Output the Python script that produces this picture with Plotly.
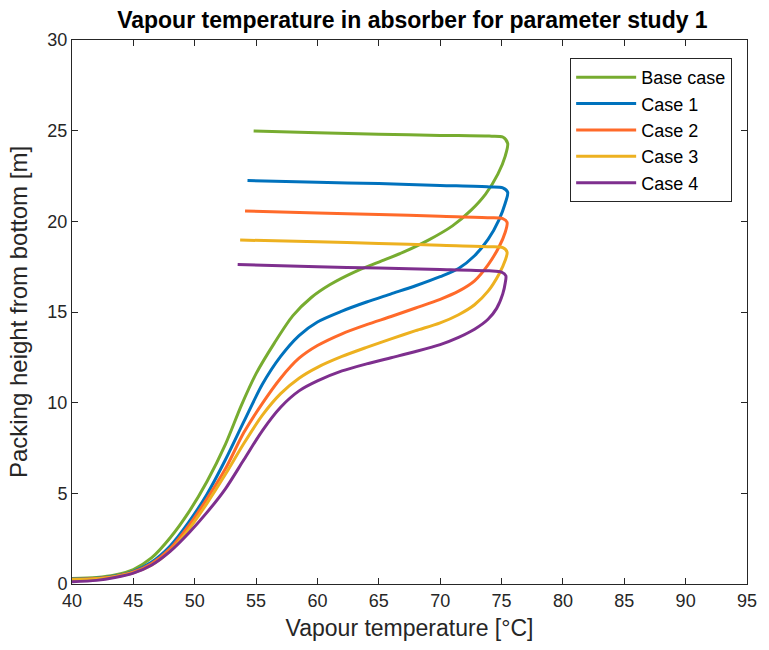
import plotly.graph_objects as go

# Vapour temperature [°C] and packing height [m] along each absorber profile,
# traced from the bottom of the packing up to the top and back along the top section.
base_temp = [40.0, 42.0, 43.5, 45.0, 46.5, 48.0, 49.5, 51.0, 52.5, 53.8, 55.0, 56.5, 58.0,
             59.5, 61.0, 63.0, 65.0, 67.0, 69.0, 71.0, 72.5, 73.7, 74.7, 75.3, 75.5, 75.1,
             74.0, 70.0, 65.0, 60.0, 54.8]
base_height = [0.30, 0.36, 0.50, 0.80, 1.45, 2.55, 3.95, 5.65, 7.70, 9.85, 11.60, 13.30, 14.80,
               15.80, 16.50, 17.20, 17.75, 18.30, 18.95, 19.75, 20.60, 21.50, 22.60, 23.60, 24.30, 24.65,
               24.70, 24.74, 24.80, 24.88, 24.98]

case1_temp = [40.0, 42.0, 43.5, 45.0, 46.5, 48.0, 49.5, 51.0, 52.5, 54.0, 55.5, 57.0, 58.5,
              60.0, 62.0, 64.0, 66.0, 68.0, 70.0, 71.5, 72.8, 73.9, 74.8, 75.3, 75.5, 75.1,
              74.0, 70.0, 65.0, 60.0, 54.3]
case1_height = [0.27, 0.32, 0.44, 0.70, 1.22, 2.10, 3.40, 4.95, 6.85, 8.95, 11.00, 12.55, 13.70,
                14.45, 15.05, 15.55, 16.00, 16.45, 16.95, 17.40, 18.10, 19.00, 20.10, 21.00, 21.60, 21.85,
                21.90, 21.98, 22.08, 22.15, 22.25]

case2_temp = [40.0, 42.0, 43.5, 45.0, 46.5, 48.0, 49.5, 51.0, 52.5, 54.0, 55.5, 57.0, 58.5,
              60.0, 62.0, 64.0, 66.0, 68.0, 70.0, 71.5, 72.8, 73.9, 74.8, 75.3, 75.45, 75.1,
              74.0, 70.0, 65.0, 60.0, 54.1]
case2_height = [0.26, 0.31, 0.42, 0.66, 1.13, 1.95, 3.20, 4.70, 6.35, 8.35, 9.95, 11.35, 12.45,
                13.15, 13.80, 14.30, 14.75, 15.22, 15.70, 16.15, 16.72, 17.60, 18.60, 19.40, 19.95, 20.15,
                20.20, 20.28, 20.38, 20.46, 20.57]

case3_temp = [40.0, 42.0, 43.5, 45.0, 46.5, 48.0, 49.5, 51.0, 52.5, 54.0, 55.5, 57.0, 58.5,
              60.0, 62.0, 64.0, 66.0, 68.0, 70.0, 71.5, 72.8, 73.9, 74.8, 75.3, 75.45, 75.1,
              74.0, 70.0, 65.0, 60.0, 53.7]
case3_height = [0.25, 0.29, 0.40, 0.62, 1.05, 1.82, 3.00, 4.45, 6.05, 7.75, 9.30, 10.50, 11.35,
                11.95, 12.55, 13.05, 13.52, 13.97, 14.40, 14.85, 15.40, 16.15, 17.10, 17.85, 18.30, 18.55,
                18.60, 18.68, 18.78, 18.87, 18.97]

case4_temp = [40.0, 42.0, 43.5, 45.0, 46.5, 48.0, 49.5, 51.0, 52.5, 54.0, 55.5, 57.0, 58.5,
              60.0, 62.0, 64.0, 66.0, 68.0, 70.0, 71.5, 72.8, 73.9, 74.6, 75.1, 75.3, 75.35,
              75.0, 74.0, 70.0, 65.0, 60.0, 53.5]
case4_height = [0.12, 0.20, 0.36, 0.60, 1.05, 1.80, 2.80, 3.95, 5.25, 6.85, 8.45, 9.75, 10.65,
                11.20, 11.75, 12.14, 12.48, 12.82, 13.20, 13.60, 14.05, 14.60, 15.20, 16.00, 16.60, 17.00,
                17.20, 17.27, 17.35, 17.42, 17.50, 17.62]

series_names = ["Base case", "Case 1", "Case 2", "Case 3", "Case 4"]
series_colors = ["#77AC30", "#0072BD", "#FF6A2A", "#EDB120", "#7E2F8E"]
series_data = [
    (base_temp, base_height),
    (case1_temp, case1_height),
    (case2_temp, case2_height),
    (case3_temp, case3_height),
    (case4_temp, case4_height),
]

x_ticks = [40, 45, 50, 55, 60, 65, 70, 75, 80, 85, 90, 95]
y_ticks = [0, 5, 10, 15, 20, 25, 30]

FONT = "Liberation Sans, Arial, Helvetica, sans-serif"
AXIS_COLOR = "#262626"

fig = go.Figure()
for name, color, (temp, height) in zip(series_names, series_colors, series_data):
    fig.add_trace(go.Scatter(
        x=temp, y=height, mode="lines", name=name,
        line=dict(color=color, width=3, shape="spline", smoothing=0.8),
    ))

axis_common = dict(
    showgrid=False, zeroline=False, showline=True, mirror="ticks",
    linecolor=AXIS_COLOR, linewidth=1, ticks="inside", ticklen=6,
    tickcolor=AXIS_COLOR, tickwidth=1,
    tickfont=dict(family=FONT, size=18, color=AXIS_COLOR),
)

fig.update_layout(
    width=769, height=650,
    margin=dict(l=72, r=16, t=40, b=66),
    paper_bgcolor="white", plot_bgcolor="white",
    title=dict(
        text="<b>Vapour temperature in absorber for parameter study 1</b>",
        font=dict(family=FONT, size=23, color="#000000"),
        x=0.5363, xanchor="center", y=0.969, yanchor="middle",
    ),
    xaxis=dict(
        range=[40, 95], tickvals=x_ticks,
        title=dict(text="Vapour temperature [°C]",
                   font=dict(family=FONT, size=23, color=AXIS_COLOR), standoff=10),
        **axis_common,
    ),
    yaxis=dict(
        range=[0, 30], tickvals=y_ticks,
        title=dict(text="Packing height from bottom [m]",
                   font=dict(family=FONT, size=24, color=AXIS_COLOR), standoff=12),
        **axis_common,
    ),
    legend=dict(
        x=0.978, xanchor="right", y=0.967, yanchor="top",
        bgcolor="white", bordercolor=AXIS_COLOR, borderwidth=1,
        font=dict(family=FONT, size=18, color="#000000"),
        itemwidth=60, tracegroupgap=0,
    ),
    showlegend=True,
)

fig.write_html("out.html")
